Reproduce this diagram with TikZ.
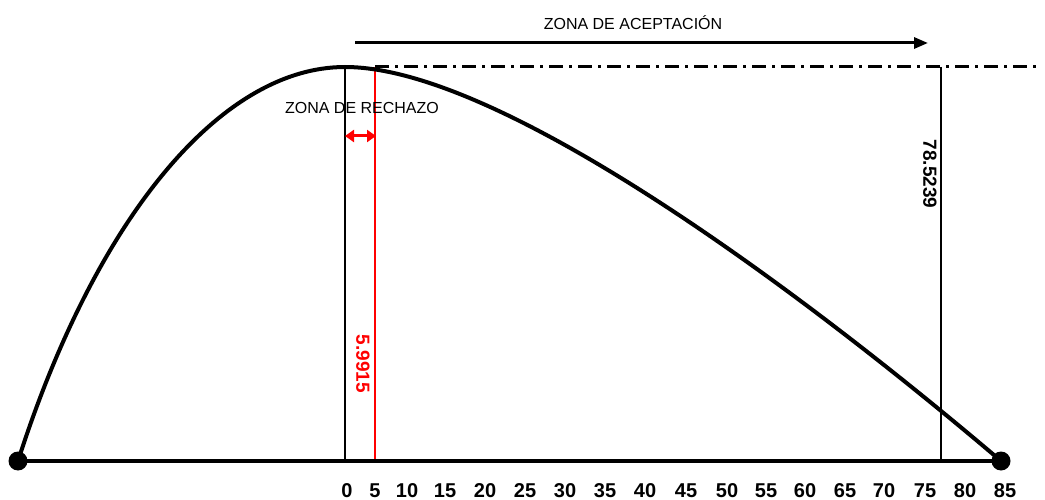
\documentclass[tikz,border=0pt]{standalone}
\usepackage{fontspec}
\setmainfont{Liberation Sans}
\usetikzlibrary{arrows.meta}
\begin{document}
\begin{tikzpicture}[x=1pt,y=-1pt,
 dotnode/.style={circle,fill=black,inner sep=0pt,minimum size=19pt},
 curveline/.style={line width=4pt,line join=round},
 axisline/.style={line width=4pt},
 guide/.style={line width=2pt},
 redguide/.style={line width=2pt,red},
 dashdotline/.style={line width=3pt,dash pattern=on 14pt off 6pt on 3pt off 6pt},
 ticklabel/.style={font=\fontsize{20}{20}\selectfont\bfseries,inner sep=0pt,anchor=base},
 vallabel/.style={font=\fontsize{19}{19}\selectfont\bfseries,rotate=-90,inner sep=0pt},
 zonelabel/.style={font=\fontsize{16}{16}\selectfont,inner sep=0pt}]
\useasboundingbox (0,0) rectangle (1045,500);
% key points
\coordinate (peak) at (345,67);
\coordinate (zeroBot) at (345,461);
\coordinate (redTop) at (375,67);
\coordinate (redBot) at (375,461);
\coordinate (accTop) at (941,67);
\coordinate (accBot) at (941,461);
\coordinate (dashEnd) at (1040,67);
\coordinate (arrS) at (355,43);
\coordinate (arrE) at (928,43);
\coordinate (rejL) at (345,136);
\coordinate (rejR) at (376,136);
% guides
\draw[guide] (peak) -- (zeroBot);
\draw[guide] (accTop) -- (accBot);
\draw[redguide] (redTop) -- (redBot);
\draw[dashdotline] (redTop) -- (dashEnd);
% axis and dots
\node[dotnode] (L) at (18,461) {};
\node[dotnode] (R) at (1001,461) {};
\draw[axisline] (L.center) -- (R.center);
% curve
\draw[curveline] (L.center) .. controls (95,220) and (220,67) .. (peak)
  .. controls (500,67) and (800,290) .. (R.center);
% arrows
\draw[line width=3pt,-{Triangle[length=14pt,width=11pt]}] (arrS) -- (arrE);
\draw[red,line width=3pt,{Triangle[length=9pt,width=12pt]}-{Triangle[length=9pt,width=12pt]}] (rejL) -- (rejR);
% labels
\node[zonelabel] (acc) at (633,23) {ZONA DE ACEPTACIÓN};
\node[zonelabel] (rej) at (362,108) {ZONA DE RECHAZO};
\node[vallabel,red] (v1) at (363,364) {5.9915};
\node[vallabel] (v2) at (930,174) {78.5239};
% tick labels
\foreach \v/\x in {0/347,5/375,10/407,15/445,20/485,25/525,30/565,35/605,40/645,45/686,50/727,55/766,60/805,65/845,70/884,75/925,80/965,85/1005}
  \node[ticklabel] (t\v) at (\x,497) {\v};
\end{tikzpicture}
\end{document}
